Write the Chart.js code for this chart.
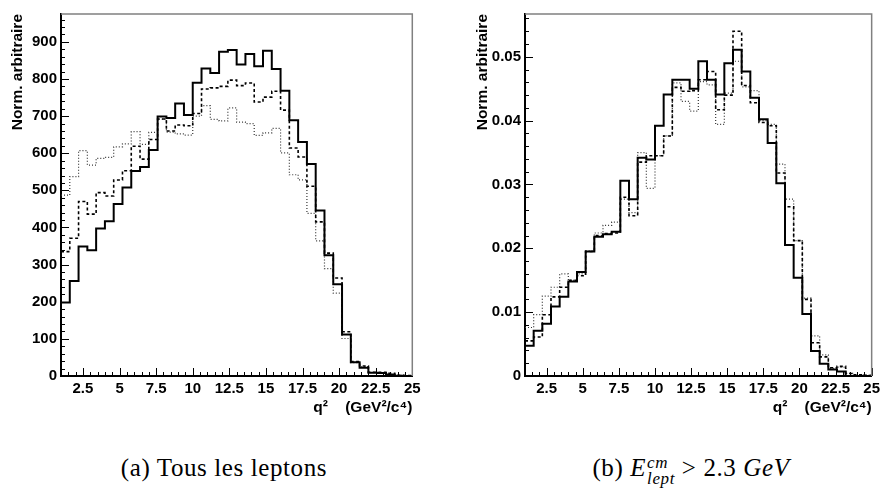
<!DOCTYPE html>
<html><head><meta charset="utf-8">
<script src="https://cdn.jsdelivr.net/npm/chart.js@4.4.0/dist/chart.umd.min.js"></script>
<style>
html,body{margin:0;padding:0;background:#fff;width:884px;height:495px;overflow:hidden;}
canvas{position:absolute;top:0;}
#cA{left:0px} #cB{left:442px}
.cap{position:absolute; top:453px; font-family:'Liberation Serif','DejaVu Serif',serif; font-size:25px; letter-spacing:0.6px; color:#000; white-space:nowrap; transform:translateX(-50%); line-height:1.2;}
#capA{left:224px}
#capB{left:691px}
.ss{display:inline-block; vertical-align:-0.45em; font-size:0.68em; font-style:italic; line-height:0.95; text-align:left; margin-left:1px;}
.ss span{display:block;}
</style></head><body>
<canvas id="cA" width="442" height="420"></canvas>
<canvas id="cB" width="442" height="420"></canvas>
<div class="cap" id="capA">(a) Tous les leptons</div>
<div class="cap" id="capB">(b) <i>E</i><span class="ss"><span>cm</span><span>lept</span></span> &gt; 2.3 <i>GeV</i></div>
<script>
// bin lower edges (GeV^2/c^4), last entry is the upper edge of the last bin
const binEdges = [1.0, 1.6, 2.2, 2.8, 3.4, 4.0, 4.6, 5.2, 5.8, 6.4, 7.0, 7.6, 8.2, 8.8, 9.4, 10.0, 10.6, 11.2, 11.8, 12.4,
  13.0, 13.6, 14.2, 14.8, 15.4, 16.0, 16.6, 17.2, 17.8, 18.4, 19.0, 19.6, 20.2, 20.8, 21.4, 22.0, 22.6, 23.2, 23.8, 24.4, 25.0];

const xTicks = [2.5, 5, 7.5, 10, 12.5, 15, 17.5, 20, 22.5, 25];
const yTicksA = [0, 100, 200, 300, 400, 500, 600, 700, 800, 900];
const yTicksB = [0, 0.01, 0.02, 0.03, 0.04, 0.05];

// (a) Tous les leptons
const solidA = [198, 256, 349, 339, 397, 417, 463, 508, 552, 563, 609, 699, 695, 734, 703, 790, 828, 816, 873, 878,
  839, 867, 834, 876, 827, 768, 689, 630, 571, 446, 325, 247, 112, 37, 22, 9, 8, 4, 1, 0];
const dashedA = [335, 371, 470, 436, 494, 485, 528, 553, 619, 584, 637, 692, 660, 676, 674, 707, 773, 776, 780, 797,
  782, 789, 738, 751, 767, 716, 614, 590, 511, 415, 331, 264, 119, 39, 27, 10, 10, 7, 2, 1];
const dottedA = [487, 537, 607, 568, 586, 589, 617, 625, 658, 624, 656, 692, 657, 652, 649, 700, 728, 691, 687, 722,
  684, 680, 648, 655, 667, 601, 542, 528, 438, 364, 289, 223, 101, 36, 25, 9, 9, 4, 2, 1];

// (b) E_lept^cm > 2.3 GeV
const solidB = [0.00475, 0.0071, 0.0082, 0.0109, 0.0124, 0.0148, 0.0163, 0.0195, 0.0218, 0.0222,
  0.0226, 0.0306, 0.0277, 0.0342, 0.0339, 0.0392, 0.0441, 0.0464, 0.0464, 0.0450,
  0.0493, 0.0464, 0.0441, 0.0490, 0.0511, 0.0477, 0.0436, 0.0402, 0.0365, 0.0302,
  0.0205, 0.0154, 0.0097, 0.0039, 0.0019, 0.0010, 0.0007, 0, 0, 0];
const dashedB = [0.0055, 0.0061, 0.0096, 0.0124, 0.0139, 0.0150, 0.0157, 0.0195, 0.0220, 0.0223,
  0.0224, 0.0280, 0.0251, 0.0335, 0.0345, 0.0345, 0.0376, 0.0452, 0.0446, 0.0447,
  0.0464, 0.0477, 0.0417, 0.0440, 0.0540, 0.0455, 0.0428, 0.0397, 0.0392, 0.0318,
  0.0265, 0.0212, 0.0120, 0.0052, 0.0030, 0.0013, 0.0015, 0.0004, 0.0002, 0.0001];
const dottedB = [0.0076, 0.0096, 0.0125, 0.0139, 0.0160, 0.0150, 0.0160, 0.0196, 0.0224, 0.0236,
  0.0241, 0.0277, 0.0256, 0.0350, 0.0294, 0.0345, 0.0376, 0.0459, 0.0430, 0.0415,
  0.0461, 0.0456, 0.0394, 0.0443, 0.0493, 0.0453, 0.0447, 0.0400, 0.0394, 0.0332,
  0.0277, 0.0212, 0.0122, 0.0063, 0.0033, 0.0012, 0.0014, 0.0004, 0.0002, 0.0001];

function histPoints(vals) {
  const pts = vals.map((v, i) => ({x: binEdges[i], y: v}));
  pts.push({x: binEdges[binEdges.length - 1], y: vals[vals.length - 1]});
  return pts;
}

const innerTicks = {
  id: 'innerTicks',
  afterDraw(chart, args, o) {
    const {ctx, chartArea: a} = chart;
    const xs = chart.scales.x, ys = chart.scales.y;
    ctx.save();
    ctx.strokeStyle = '#000';
    ctx.lineWidth = 1;
    ctx.beginPath();
    for (let i = 1; ; i++) {
      const v = xs.min + i * o.xMinor;
      if (v > xs.max + 1e-9) break;
      const r = v / o.xMajor;
      const major = Math.abs(r - Math.round(r)) < 1e-6;
      const px = Math.round(xs.getPixelForValue(v)) + 0.5;
      ctx.moveTo(px, a.bottom);
      ctx.lineTo(px, a.bottom - (major ? 8 : 4));
    }
    for (let i = 1; ; i++) {
      const v = ys.min + i * o.yMinor;
      if (v > ys.max + 1e-12) break;
      const r = v / o.yMajor;
      const major = Math.abs(r - Math.round(r)) < 1e-6;
      const py = Math.round(ys.getPixelForValue(v)) + 0.5;
      ctx.moveTo(a.left, py);
      ctx.lineTo(a.left + (major ? 8 : 4), py);
    }
    ctx.stroke();
    ctx.strokeStyle = '#808080';
    ctx.lineWidth = 1.5;
    ctx.beginPath();
    ctx.moveTo(a.left, a.top);
    ctx.lineTo(a.right, a.top);
    ctx.lineTo(a.right, a.bottom);
    ctx.stroke();
    ctx.restore();
  }
};

const tickFont = {family: "'Liberation Sans', Arial, sans-serif", size: 15, weight: 'bold'};
const titleFont = {family: "'Liberation Sans', Arial, sans-serif", size: 15.5, weight: 'bold'};

function makeChart(id, s, d, t, yMax, yTicks, yMajor, yMinor, yWidth, padRight, titlePad) {
  return new Chart(document.getElementById(id), {
    type: 'line',
    data: {
      datasets: [
        {data: histPoints(s), stepped: true, borderColor: '#000', borderWidth: 2, pointRadius: 0, fill: false},
        {data: histPoints(d), stepped: true, borderColor: '#000', borderWidth: 1.6, borderDash: [3, 2.5], pointRadius: 0, fill: false},
        {data: histPoints(t), stepped: true, borderColor: '#333', borderWidth: 1.2, borderDash: [1, 2], pointRadius: 0, fill: false}
      ]
    },
    options: {
      responsive: false,
      animation: false,
      devicePixelRatio: 1,
      layout: {padding: {top: 14, right: padRight, left: 0, bottom: 0}},
      plugins: {
        legend: {display: false},
        tooltip: {enabled: false},
        innerTicks: {xMajor: 2.5, xMinor: 0.5, yMajor: yMajor, yMinor: yMinor}
      },
      scales: {
        x: {
          type: 'linear', min: binEdges[0], max: binEdges[binEdges.length - 1],
          afterBuildTicks: sc => { sc.ticks = xTicks.map(v => ({value: v})); },
          afterFit: sc => { sc.height = 44; },
          grid: {display: true, drawOnChartArea: false, drawTicks: false},
          border: {display: true, color: '#000', width: 2},
          ticks: {font: tickFont, color: '#000', padding: 4, autoSkip: false, maxRotation: 0,
            callback: v => String(v)},
          title: {display: true, text: 'q\u00B2    (GeV\u00B2/c\u2074)', align: 'end', font: titleFont, color: '#000',
            padding: {top: 0, bottom: 3}}
        },
        y: {
          type: 'linear', min: 0, max: yMax,
          afterBuildTicks: sc => { sc.ticks = yTicks.map(v => ({value: v})); },
          afterFit: sc => { sc.width = yWidth; },
          grid: {display: true, drawOnChartArea: false, drawTicks: false},
          border: {display: true, color: '#000', width: 2},
          ticks: {font: tickFont, color: '#000', padding: 4, autoSkip: false, callback: v => String(v)},
          title: {display: true, text: 'Norm. arbitraire', align: 'end', font: titleFont, color: '#000',
            padding: {top: titlePad, bottom: 0}}
        }
      }
    },
    plugins: [innerTicks]
  });
}

makeChart('cA', solidA, dashedA, dottedA, 975, yTicksA, 100, 20, 61, 29.7, 8);
makeChart('cB', solidB, dashedB, dottedB, 0.0567, yTicksB, 0.01, 0.002, 83, 7.3, 31);
</script>
</body></html>
